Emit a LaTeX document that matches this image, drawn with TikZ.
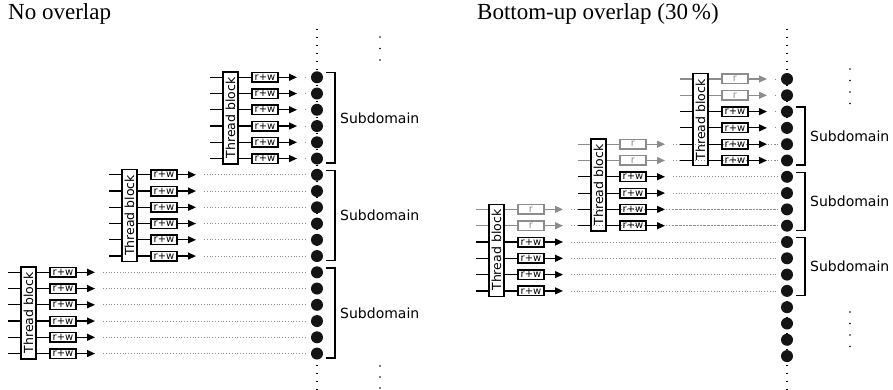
\documentclass[tikz,border=0pt]{standalone}
\usepackage{fontspec}
\setmainfont{DejaVu Sans}
\newfontfamily\titlefont{Liberation Serif}
\usetikzlibrary{arrows.meta,calc}
\definecolor{mygray}{RGB}{140,140,140}
\definecolor{mydot}{RGB}{20,20,20}

\tikzset{
    tblock/.style={draw, line width=1.3pt, minimum width=15pt, minimum height=92pt,
        inner sep=0pt, font=\fontsize{12.5}{12.5}\selectfont},
    rwbox/.style={draw, line width=1.5pt, minimum width=26pt, minimum height=9.5pt,
        inner sep=0pt, font=\fontsize{10}{10}\selectfont},
    bigdot/.style={circle, fill=mydot, minimum size=12pt, inner sep=0pt},
    wire/.style={line width=1.2pt},
    outarrow/.style={wire, -{Triangle[length=8pt,width=7pt]}},
    gapline/.style={mygray, dotted, line width=0.8pt},
    column/.style={line width=1.3pt, dash pattern=on 1.3pt off 6.7pt},
    bracket/.style={line width=1.4pt},
    sublabel/.style={anchor=west, inner sep=0pt, font=\fontsize{14}{14}\selectfont},
    title/.style={anchor=base west, inner sep=0pt, font=\titlefont\fontsize{23}{27}\selectfont}
}

\begin{document}
\begin{tikzpicture}[x=1pt, y=-1pt]
    \useasboundingbox (0,0) rectangle (893,390);
    \begin{scope}
        % Title
        \node[title] (titleL) at (8,20) {No overlap};
        % memory column
        \coordinate (topL) at (317,29);
        \coordinate (botL) at (317,390);
        \draw[column] (topL) -- (botL);
        \foreach \k in {0,...,17}
            \node[bigdot] (dL\k) at (317,77.3+16.25*\k) {};
        % thread blocks
        \foreach \j in {0,1,2} {
            \pgfmathsetmacro{\bx}{21+101*\j}
            \pgfmathtruncatemacro{\kf}{12-6*\j}
            \node[tblock] (tbL\j) at (\bx+7.5,77.3+16.25*\kf+40.6) {\rotatebox{90}{Thread block}};
            \foreach \i in {0,...,5} {
                \pgfmathtruncatemacro{\k}{\kf+\i}
                \coordinate (inL\j\i) at (\bx-13,77.3+16.25*\k);
                \node[rwbox] (rwL\j\i) at (\bx+42,77.3+16.25*\k) {r+w};
                \coordinate (tipL\j\i) at (\bx+74,77.3+16.25*\k);
                \coordinate (gapL\j\i) at (\bx+82,77.3+16.25*\k);
                \draw[wire] (inL\j\i) -- (inL\j\i -| tbL\j.west);
                \draw[wire] (tbL\j.east |- rwL\j\i) -- (rwL\j\i);
                \draw[outarrow] (rwL\j\i) -- (tipL\j\i);
                \draw[gapline] (gapL\j\i) -- ([xshift=-10pt]dL\k.center);
            }
        }
        % subdomains
        \foreach \a/\b [count=\n] in {0/5, 6/11, 12/17} {
            \draw[bracket] ([xshift=9pt,yshift=4.5pt]dL\a.center) -- ++(9,0)
                |- ([xshift=9pt,yshift=-4.5pt]dL\b.center);
            \node[sublabel] (subL\n) at ($(dL\a)!0.5!(dL\b)+(23,0)$) {Subdomain};
        }
        % more memory
        \foreach \y in {37,48.5,60,366,377,388}
            \fill (380,\y) circle (0.9);
    \end{scope}

    \begin{scope}
        % Title
        \node[title] (titleR) at (477,20) {Bottom-up overlap (30\,\%)};
        % memory column
        \coordinate (topR) at (787,29);
        \coordinate (botR) at (787,390);
        \draw[column] (topR) -- (botR);
        \foreach \k in {0,...,17}
            \node[bigdot] (dR\k) at (787,79+16.3*\k) {};
        % thread blocks, two read-only rows each
        \foreach \j in {0,1,2} {
            \pgfmathsetmacro{\bx}{489+102*\j}
            \pgfmathtruncatemacro{\kf}{8-4*\j}
            \node[tblock] (tbR\j) at (\bx+7.5,79+16.3*\kf+40.75) {\rotatebox{90}{Thread block}};
            \foreach \i/\txt/\col in {0/r/mygray, 1/r/mygray, 2/r+w/black,
                    3/r+w/black, 4/r+w/black, 5/r+w/black} {
                \pgfmathtruncatemacro{\k}{\kf+\i}
                \coordinate (inR\j\i) at (\bx-13,79+16.3*\k);
                \node[rwbox, draw=\col, text=\col] (rwR\j\i) at (\bx+42,79+16.3*\k) {\txt};
                \coordinate (tipR\j\i) at (\bx+74,79+16.3*\k);
                \coordinate (gapR\j\i) at (\bx+82,79+16.3*\k);
                \draw[wire, \col] (inR\j\i) -- (inR\j\i -| tbR\j.west);
                \draw[wire, \col] (tbR\j.east |- rwR\j\i) -- (rwR\j\i);
                \draw[outarrow, \col] (rwR\j\i) -- (tipR\j\i);
                \draw[gapline] (gapR\j\i) -- ([xshift=-10pt]dR\k.center);
            }
        }
        % subdomains
        \foreach \a/\b [count=\n] in {2/5, 6/9, 10/13} {
            \draw[bracket] ([xshift=9pt,yshift=4.5pt]dR\a.center) -- ++(9,0)
                |- ([xshift=9pt,yshift=-4.5pt]dR\b.center);
            \node[sublabel] (subR\n) at ($(dR\a)!0.5!(dR\b)+(23,0)$) {Subdomain};
        }
        % more memory
        \foreach \y in {69,80.5,92,103.5,312,323.5,335,346.5}
            \fill (850,\y) circle (0.9);
    \end{scope}
\end{tikzpicture}
\end{document}
